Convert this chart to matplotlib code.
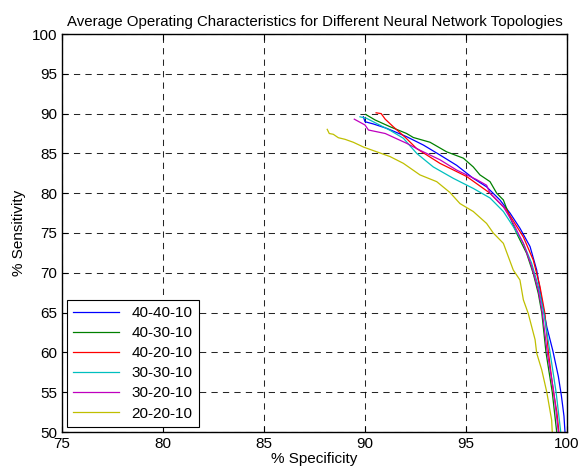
import matplotlib
matplotlib.use("Agg")
import matplotlib.pyplot as plt

plt.rcParams['font.family'] = ['Liberation Sans', 'DejaVu Sans']

labels = ["40-40-10", "40-30-10", "40-20-10", "30-30-10", "30-20-10", "20-20-10"]
colors = [(0, 0, 1), (0, 0.5, 0), (1, 0, 0), (0, 0.75, 0.75), (0.75, 0, 0.75), (0.75, 0.75, 0)]

spec_404010 = [89.92, 90.0, 90.41, 91.07, 92.06, 92.89, 93.71, 94.54, 95.36, 96.02, 96.68, 97.18,
               97.67, 98.17, 98.5, 98.75, 99.0, 99.3, 99.57, 99.72, 99.85, 99.9]
sens_404010 = [89.6, 88.98, 88.7, 88.15, 87.1, 86.05, 84.8, 83.5, 81.87, 80.8, 79.15, 77.5,
               75.6, 73.3, 70.35, 66.6, 63.2, 60.2, 57.0, 54.6, 52.0, 50.0]

spec_403010 = [90.03, 90.5, 91.24, 92.06, 92.39, 93.22, 94.04, 94.87, 95.36, 95.69, 96.19, 96.52,
               96.85, 97.1, 97.5, 98.0, 98.33, 98.58, 98.75, 98.96, 99.27, 99.49]
sens_403010 = [89.9, 89.2, 88.35, 87.5, 87.0, 86.4, 85.2, 84.4, 83.3, 82.3, 81.45, 80.0,
               79.15, 77.5, 75.0, 72.45, 69.9, 67.4, 65.0, 60.0, 55.0, 50.0]

spec_402010 = [90.55, 90.8, 91.0, 91.4, 92.0, 92.56, 93.71, 95.03, 96.19, 97.0, 97.84, 98.33,
               98.66, 98.9, 99.08, 99.33, 99.5, 99.6]
sens_402010 = [90.1, 90.0, 89.3, 88.35, 87.0, 85.6, 83.75, 82.1, 80.0, 77.9, 74.5, 71.6,
               68.3, 65.0, 60.0, 55.0, 52.5, 50.0]

spec_303010 = [89.75, 90.08, 91.24, 91.9, 92.56, 93.38, 94.37, 95.36, 96.19, 96.85, 97.34, 97.84,
               98.25, 98.58, 98.85, 99.16, 99.46, 99.69]
sens_303010 = [89.6, 89.4, 87.9, 86.9, 85.0, 83.3, 81.87, 80.6, 79.4, 77.7, 75.8, 73.7,
               71.2, 68.3, 65.0, 60.0, 55.0, 50.0]

spec_302010 = [89.47, 90.0, 90.17, 91.0, 92.06, 92.72, 93.71, 94.54, 95.53, 96.02, 96.19, 96.85,
               97.34, 97.84, 98.25, 98.58, 98.78, 99.02, 99.35, 99.57]
sens_302010 = [89.3, 88.57, 87.94, 87.5, 86.27, 85.4, 84.2, 82.9, 81.7, 81.0, 80.0, 78.3,
               76.2, 73.7, 70.8, 67.8, 65.0, 60.0, 55.0, 50.0]

spec_202010 = [88.13, 88.23, 88.43, 88.68, 89.01, 89.42, 89.95, 90.58, 91.24, 91.9, 92.72, 93.55,
               94.2, 94.7, 95.36, 96.02, 96.35, 96.85, 97.34, 97.67, 97.84, 98.08, 98.42, 98.5,
               98.75, 99.0, 99.24, 99.27]
sens_202010 = [88.02, 87.5, 87.4, 86.97, 86.77, 86.4, 85.77, 85.2, 84.6, 83.75, 82.3, 81.45,
               80.1, 78.7, 77.7, 76.2, 75.0, 73.7, 70.35, 69.1, 66.6, 64.9, 61.6, 59.9,
               57.8, 55.0, 51.5, 50.0]

series = [(spec_404010, sens_404010), (spec_403010, sens_403010), (spec_402010, sens_402010),
          (spec_303010, sens_303010), (spec_302010, sens_302010), (spec_202010, sens_202010)]

xticks = [75, 80, 85, 90, 95, 100]
yticks = [50, 55, 60, 65, 70, 75, 80, 85, 90, 95, 100]

fig = plt.figure(figsize=(5.79, 4.72), dpi=100)
ax = fig.add_axes([62 / 579, 1 - 432 / 472, (567 - 62) / 579, (432 - 34) / 472])

for (xs, ys), c, lab in zip(series, colors, labels):
    ax.plot(xs, ys, color=c, lw=0.9, label=lab)

ax.set_xlim(75, 100)
ax.set_ylim(50, 100)
ax.set_xticks(xticks)
ax.set_yticks(yticks)
ax.grid(True, color='black', linestyle=(0, (6, 5)), linewidth=0.75, alpha=0.85)
ax.tick_params(direction='in', top=True, right=True, labelsize=11, length=4, width=0.8)
for s in ax.spines.values():
    s.set_linewidth(1.0)

ax.set_title("Average Operating Characteristics for Different Neural Network Topologies",
             fontsize=10.8, pad=6)
ax.set_xlabel("% Specificity", fontsize=11, labelpad=1)
ax.set_ylabel("% Sensitivity", fontsize=11, labelpad=4)

leg = ax.legend(loc='lower left', fontsize=11, fancybox=False, framealpha=1,
                edgecolor='black', borderaxespad=0.35, handlelength=3.0,
                labelspacing=0.4, borderpad=0.4)
leg.get_frame().set_linewidth(0.8)

fig.savefig("out.png", dpi=100)
